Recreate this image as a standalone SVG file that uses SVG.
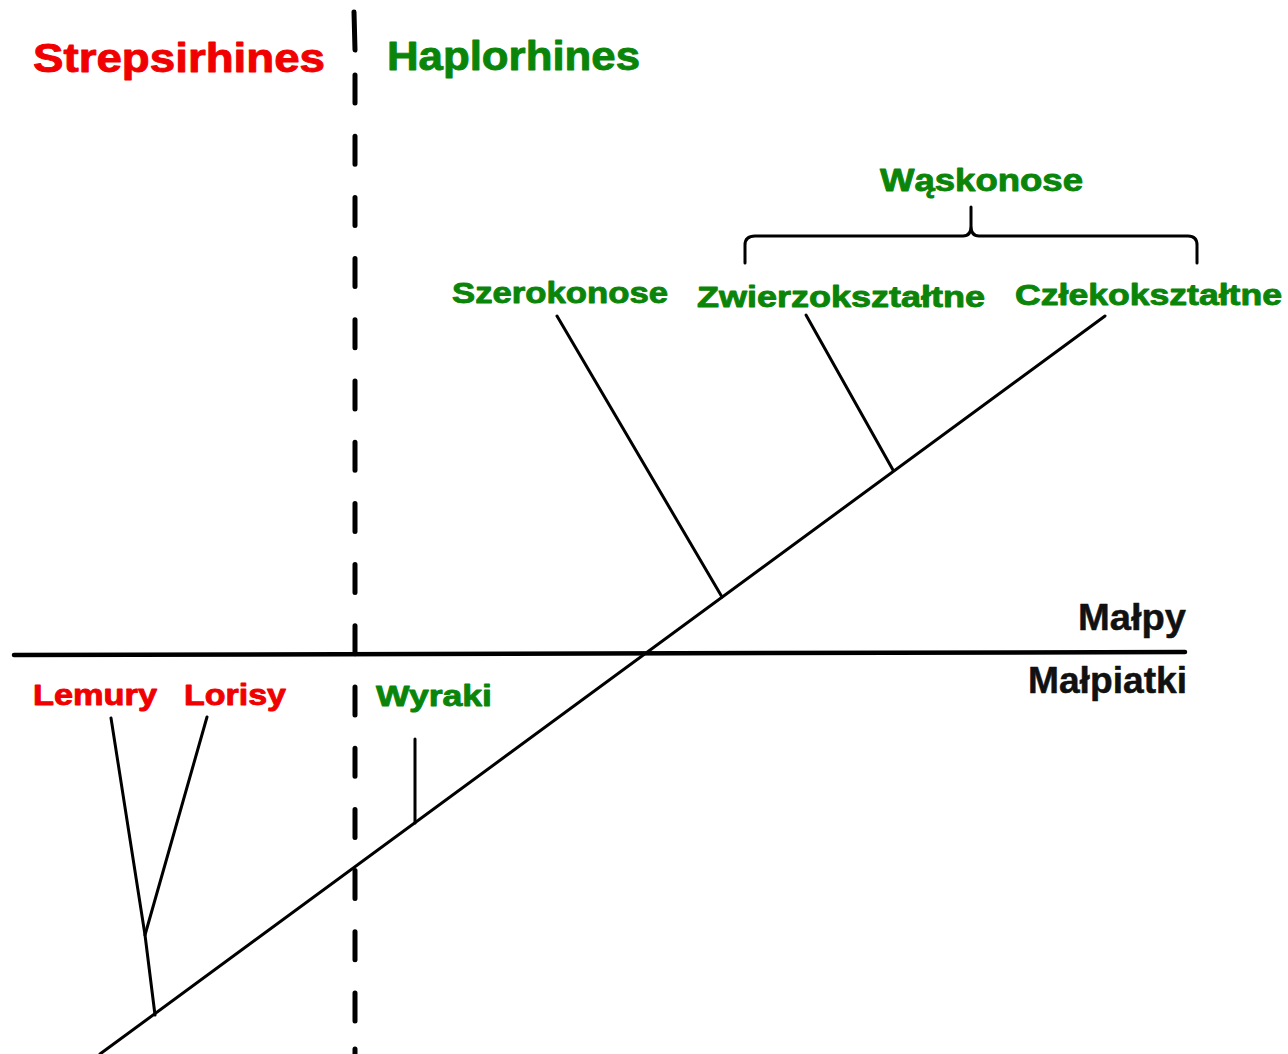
<svg xmlns="http://www.w3.org/2000/svg" width="1288" height="1054" viewBox="0 0 1288 1054">
<style>
.t{font-family:"Liberation Sans",Arial,sans-serif;font-weight:bold;stroke-width:0.9;stroke-linejoin:round}
.red{fill:#f00000;stroke:#f00000}
.grn{fill:#0a850a;stroke:#0a850a}
.blk{fill:#111;stroke:#111;stroke-width:0.5}
.ln{stroke:#000;stroke-width:3;fill:none;stroke-linecap:round;stroke-linejoin:round}
</style>
<rect width="1288" height="1054" fill="#fff"/>
<g id="connectors">
<line x1="14" y1="655" x2="1185" y2="652" stroke="#000" stroke-width="4.5" stroke-linecap="round"/>
<line x1="354" y1="12" x2="355" y2="50" stroke="#000" stroke-width="5" stroke-linecap="round"/>
<line x1="355" y1="75" x2="355" y2="1030" stroke="#000" stroke-width="5" stroke-linecap="round" stroke-dasharray="28 33.2"/>
<line x1="355" y1="1049" x2="355" y2="1060" stroke="#000" stroke-width="5" stroke-linecap="round"/>
<line class="ln" x1="100" y1="1054" x2="1105" y2="316"/>
<polyline class="ln" points="155,1015 145,935 111,718"/>
<line class="ln" x1="145" y1="935" x2="207" y2="717"/>
<line class="ln" x1="415" y1="823" x2="415" y2="739"/>
<line class="ln" x1="722" y1="597" x2="557" y2="316"/>
<line class="ln" x1="893" y1="470" x2="806" y2="315"/>
<path class="ln" d="M745,263 V245 Q745,236 755,236 H963 Q971,236 971,226 V207 M971,226 Q971,236 979,236 H1188 Q1197,236 1197,245 V263"/>
</g>
<g id="strepsirhines"><text class="t red" x="33" y="72" font-size="40" textLength="292" lengthAdjust="spacingAndGlyphs">Strepsirhines</text></g>
<g id="haplorhines"><text class="t grn" x="387" y="70" font-size="40" textLength="253" lengthAdjust="spacingAndGlyphs">Haplorhines</text></g>
<g id="waskonose"><text class="t grn" x="880" y="191" font-size="31" textLength="203" lengthAdjust="spacingAndGlyphs">Wąskonose</text></g>
<g id="szerokonose"><text class="t grn" x="452" y="303" font-size="29" textLength="216" lengthAdjust="spacingAndGlyphs">Szerokonose</text></g>
<g id="zwierzoksztaltne"><text class="t grn" x="697" y="307" font-size="29" textLength="288" lengthAdjust="spacingAndGlyphs">Zwierzokształtne</text></g>
<g id="czlekoksztaltne"><text class="t grn" x="1015" y="305" font-size="29" textLength="267" lengthAdjust="spacingAndGlyphs">Człekokształtne</text></g>
<g id="malpy"><text class="t blk" x="1078" y="630" font-size="37" textLength="108" lengthAdjust="spacingAndGlyphs">Małpy</text></g>
<g id="malpiatki"><text class="t blk" x="1028" y="693" font-size="37" textLength="159" lengthAdjust="spacingAndGlyphs">Małpiatki</text></g>
<g id="lemury"><text class="t red" x="33" y="705" font-size="29" textLength="124" lengthAdjust="spacingAndGlyphs">Lemury</text></g>
<g id="lorisy"><text class="t red" x="184" y="705" font-size="29" textLength="102" lengthAdjust="spacingAndGlyphs">Lorisy</text></g>
<g id="wyraki"><text class="t grn" x="376" y="706" font-size="29" textLength="116" lengthAdjust="spacingAndGlyphs">Wyraki</text></g>
</svg>
